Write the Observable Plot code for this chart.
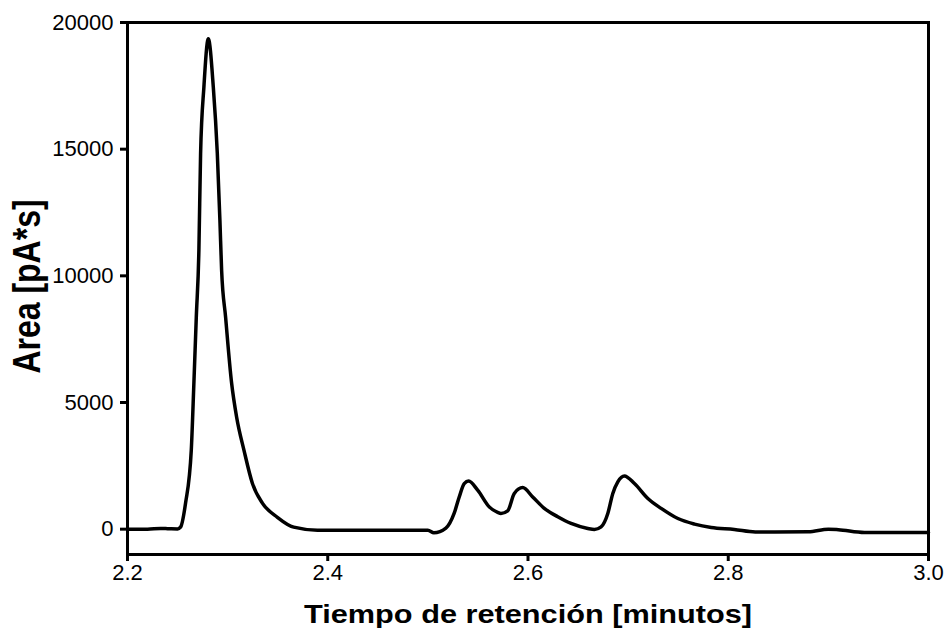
<!DOCTYPE html>
<html><head><meta charset="utf-8">
<script src="https://cdn.jsdelivr.net/npm/d3@7"></script>
<script src="https://cdn.jsdelivr.net/npm/@observablehq/plot@0.6"></script>
<style>
html,body{margin:0;padding:0;background:#fff}
</style></head><body><div id="chart"></div>
<script>
const time = [2.200,2.220,2.233,2.240,2.250,2.253,2.258,2.2637,2.2663,2.2687,2.2713,2.273,2.2763,2.2807,
  2.2857,2.2897,2.2923,2.294,2.298,2.304,2.309,2.3163,2.3247,2.3347,2.3497,2.366,2.3897,2.420,2.450,2.500,
  2.506,2.518,2.5263,2.5313,2.5363,2.5407,2.5497,2.5613,2.5697,2.573,2.5797,2.5863,2.5947,2.6047,2.6163,
  2.6297,2.643,2.6597,2.6663,2.673,2.6797,2.6847,2.6897,2.6963,2.7063,2.7197,2.733,2.7497,2.7663,2.783,
  2.806,2.827,2.880,2.900,2.910,2.936,3.000];
const area = [0,0,25,20,10,80,1030,3120,5760,8360,11000,14830,17450,19360,
  17450,14830,12190,10220,8360,5760,4420,3120,1815,1030,470,80,-40,-40,-40,-40,
  -145,40,630,1270,1800,1900,1540,880,660,620,720,1410,1640,1270,820,
  490,225,30,-10,90,620,1410,1870,2100,1800,1210,820,420,200,65,
  -10,-110,-100,0,-20,-130,-130];
const xTicks = [2.2, 2.4, 2.6, 2.8, 3.0];
const yTicks = [0, 5000, 10000, 15000, 20000];
const xLabel = "Tiempo de retención [minutos]";
const yLabel = "Area [pA*s]";

const data = time.map((t, i) => ({t, a: area[i]}));
const font = "'Liberation Sans', Arial, Helvetica, sans-serif";

const plot = Plot.plot({
  width: 948, height: 632,
  marginLeft: 127, marginRight: 20, marginTop: 22, marginBottom: 78,
  style: {fontFamily: font, fontSize: "22px", color: "#000", background: "#fff", overflow: "visible"},
  x: {domain: [2.2, 3.0]},
  y: {domain: [-1000, 20000]},
  marks: [
    Plot.frame({stroke: "#000", strokeWidth: 3}),
    Plot.axisX({ticks: xTicks, tickSize: 7, tickPadding: 3, strokeWidth: 3, fontSize: 22,
      tickFormat: d => d.toFixed(1), label: null}),
    Plot.axisY({ticks: yTicks, tickSize: 7, tickPadding: 7, strokeWidth: 3, fontSize: 22,
      tickFormat: d => String(d), label: null}),
    Plot.line(data, {x: "t", y: "a", stroke: "#000", strokeWidth: 3.5, curve: "monotone-x",
      strokeLinejoin: "round", strokeLinecap: "round"}),
    Plot.text([xLabel], {text: d => d, frameAnchor: "bottom", lineAnchor: "bottom", textAnchor: "middle",
      dy: 68, fontSize: 26, fontWeight: "bold", fill: "#000", className: "xlab"}),
    Plot.text([yLabel], {text: d => d, frameAnchor: "left", lineAnchor: "bottom", textAnchor: "middle",
      rotate: -90, dx: -88, dy: -2, fontSize: 32, fontWeight: "bold", fill: "#000", className: "ylab"})
  ]
});
document.getElementById("chart").appendChild(plot);
// the reference's lettering is stretched horizontally
const xl = plot.querySelector(".xlab text");
if (xl) { xl.setAttribute("textLength", 448); xl.setAttribute("lengthAdjust", "spacingAndGlyphs"); }
const yl = plot.querySelector(".ylab text");
if (yl) {
  const tr = yl.getAttribute("transform") || "";
  if (/rotate/.test(tr)) yl.setAttribute("transform", tr + " scale(1,1.19)");
}
</script>
</body></html>
